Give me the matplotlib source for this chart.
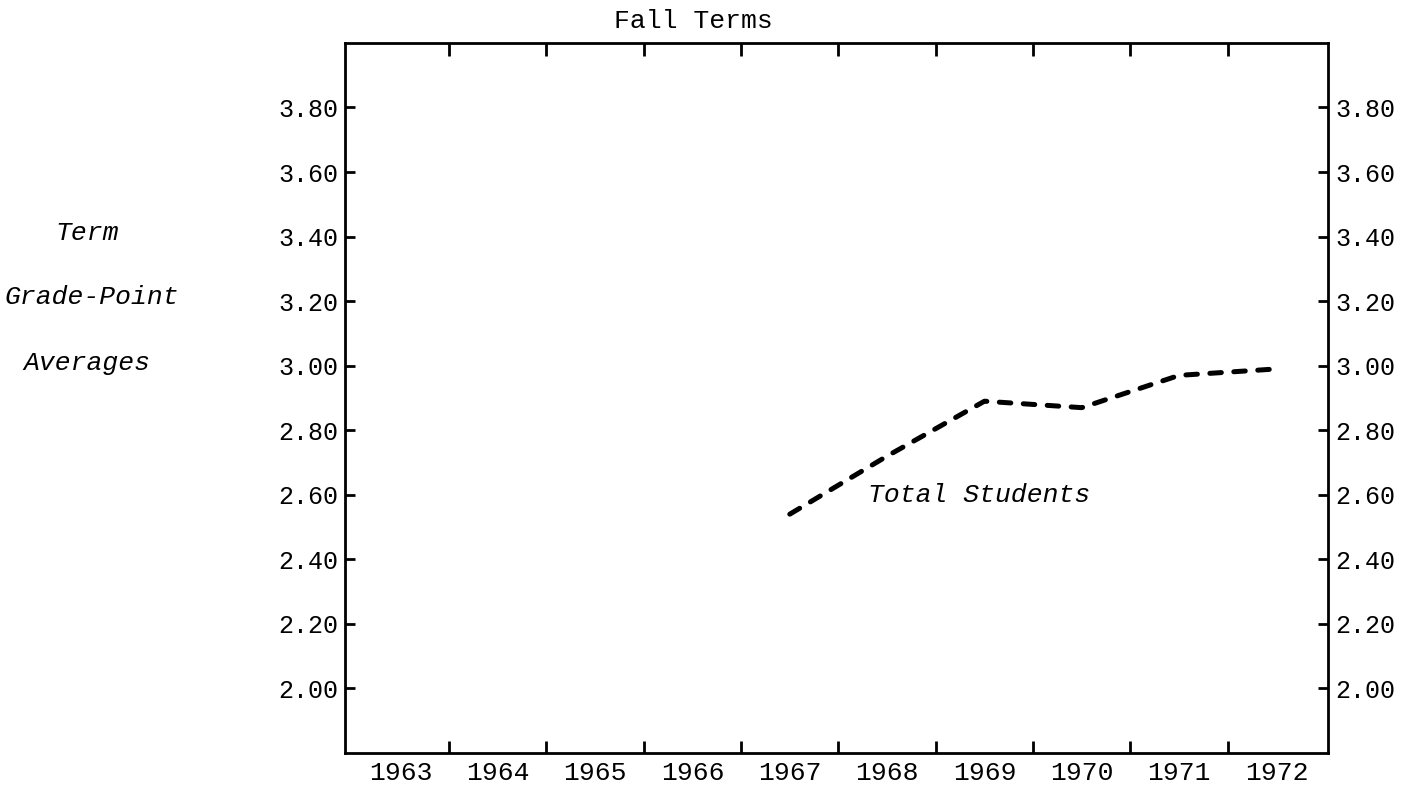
import matplotlib
matplotlib.use("Agg")
import matplotlib.pyplot as plt

# Data
years = [1967, 1968, 1969, 1970, 1971, 1972]
gpa_total = [2.54, 2.72, 2.89, 2.87, 2.97, 2.99]
year_labels = ["1963", "1964", "1965", "1966", "1967", "1968", "1969", "1970", "1971", "1972"]
label_years = [1963, 1964, 1965, 1966, 1967, 1968, 1969, 1970, 1971, 1972]
boundary_ticks = [1963.5, 1964.5, 1965.5, 1966.5, 1967.5, 1968.5, 1969.5, 1970.5, 1971.5]
y_ticks = [2.00, 2.20, 2.40, 2.60, 2.80, 3.00, 3.20, 3.40, 3.60, 3.80]
y_tick_labels = ["2.00", "2.20", "2.40", "2.60", "2.80", "3.00", "3.20", "3.40", "3.60", "3.80"]
ylabel_lines = ["Term", "Grade-Point", "Averages"]

MONO = ["Liberation Mono", "DejaVu Sans Mono"]

fig = plt.figure(figsize=(14.19, 7.89), dpi=100)
fig.patch.set_facecolor("white")
ax = fig.add_axes([0.2431, 0.0456, 0.6928, 0.9])
ax.set_xlim(1962.43, 1972.53)
ax.set_ylim(1.80, 4.00)

for s in ax.spines.values():
    s.set_linewidth(2.0)
    s.set_color("black")

ax.plot(years, gpa_total, color="black", lw=3.6,
        linestyle=(0, (2.3, 2.5)), dash_capstyle="round",
        solid_capstyle="round")

ax.text(1968.95, 2.60, "Total Students", ha="center", va="center",
        family=MONO, style="italic", fontsize=19)

# x ticks: marks at boundaries (top and bottom), labels centered on years
ax.set_xticks(boundary_ticks)
ax.set_xticklabels([])
ax.tick_params(axis="x", which="major", direction="in", length=9, width=2,
               top=True, bottom=True)
ax.set_xticks(label_years, minor=True)
ax.set_xticklabels(year_labels, minor=True, family=MONO, fontsize=19)
ax.tick_params(axis="x", which="minor", length=0, pad=6)

# y ticks on both sides
ax.set_yticks(y_ticks)
ax.set_yticklabels(y_tick_labels, family=MONO, fontsize=18)
ax.tick_params(axis="y", direction="in", length=7, width=2,
               left=True, right=True, labelleft=True, labelright=True, pad=5)

fig.text(693 / 1419, 1 - 21 / 789, "Fall Terms", ha="center", va="center",
         family=MONO, fontsize=19)

ypos = [233, 297, 363]
xpos = [87, 92, 87]
for t, xp, yp in zip(ylabel_lines, xpos, ypos):
    fig.text(xp / 1419, 1 - yp / 789, t, ha="center", va="center",
             family=MONO, style="italic", fontsize=19)

fig.savefig("out.png", dpi=100, facecolor="white")
